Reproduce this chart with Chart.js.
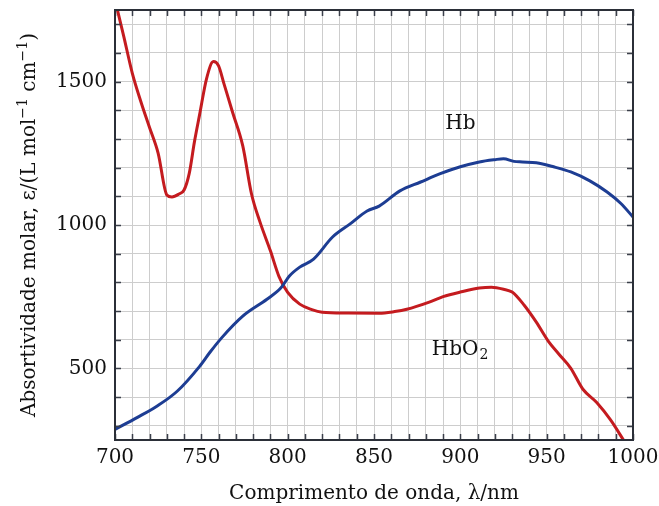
<!DOCTYPE html>
<html>
<head>
<meta charset="utf-8">
<script src="https://cdn.jsdelivr.net/npm/chart.js@4.4.0/dist/chart.umd.min.js"></script>
<style>
  html, body { margin: 0; padding: 0; background: #fff; }
  #wrap { width: 659px; height: 506px; position: relative; }
</style>
</head>
<body>
<div id="wrap"><canvas id="specChart"></canvas></div>
<script>
// Hb (deoxy) curve
const hbWave = [700, 713, 724, 736, 749, 755, 762, 774, 788, 796, 801, 807, 815, 826, 836, 846, 853, 865, 877, 888, 900, 911, 920, 925, 931, 936, 944, 954, 964, 975, 985, 993, 1000];
const hbValues = [287, 329, 367, 420, 507, 556, 608, 682, 741, 780, 822, 853, 881, 958, 1003, 1049, 1066, 1119, 1150, 1178, 1203, 1220, 1228, 1231, 1222, 1220, 1217, 1203, 1185, 1154, 1115, 1075, 1028];

// HbO2 curve
const hbo2Wave = [700, 705, 710, 715, 720, 725, 730, 733, 737, 740, 743, 746, 749, 753, 757, 760, 763, 768, 774, 779, 784, 790, 795, 800, 807, 814, 820, 835, 853, 862, 869, 882, 890, 900, 911, 918, 925, 930, 937, 944, 951, 957, 964, 971, 979, 987, 995];
const hbo2Values = [1785, 1660, 1530, 1430, 1340, 1250, 1105, 1098, 1108, 1122, 1180, 1290, 1385, 1510, 1570, 1555, 1495, 1395, 1276, 1110, 1010, 910, 820, 765, 724, 705, 696, 693, 692, 698, 706, 731, 750, 766, 780, 783, 776, 766, 720, 661, 594, 550, 500, 427, 381, 320, 245];

const xLabels = [700, 750, 800, 850, 900, 950, 1000];
const yLabels = [500, 1000, 1500];
const xGrid = [700, 710, 720, 730, 740, 750, 760, 770, 780, 790, 800, 810, 820, 830, 840, 850, 860, 870, 880, 890, 900, 910, 920, 930, 940, 950, 960, 970, 980, 990, 1000];
const yGrid = [300, 400, 500, 600, 700, 800, 900, 1000, 1100, 1200, 1300, 1400, 1500, 1600, 1700];

const serif = '"DejaVu Serif", serif';

function toPoints(xs, ys) {
    return xs.map((x, i) => ({ x: x, y: ys[i] }));
}

// inward ticks, frame, y title and curve labels
const framePlugin = {
    id: 'frame',
    afterDraw(chart) {
        const ctx = chart.ctx;
        const a = chart.chartArea;
        const xs = chart.scales.x, ys = chart.scales.y;
        ctx.save();
        ctx.strokeStyle = '#3a3f4a';
        ctx.lineWidth = 1.5;
        xGrid.forEach(v => {
            const px = Math.round(xs.getPixelForValue(v)) + 0.5;
            ctx.beginPath();
            ctx.moveTo(px, a.bottom); ctx.lineTo(px, a.bottom - 6);
            ctx.moveTo(px, a.top); ctx.lineTo(px, a.top + 6);
            ctx.stroke();
        });
        yGrid.forEach(v => {
            const py = Math.round(ys.getPixelForValue(v)) + 0.5;
            ctx.beginPath();
            ctx.moveTo(a.left, py); ctx.lineTo(a.left + 6, py);
            ctx.moveTo(a.right, py); ctx.lineTo(a.right - 6, py);
            ctx.stroke();
        });
        ctx.lineWidth = 2;
        ctx.strokeStyle = '#2b2f38';
        ctx.strokeRect(a.left, a.top, a.right - a.left, a.bottom - a.top);

        ctx.fillStyle = '#111';
        ctx.font = '20px ' + serif;
        ctx.textBaseline = 'middle';
        ctx.textAlign = 'center';
        ctx.fillText('Hb', xs.getPixelForValue(900), ys.getPixelForValue(1353));
        ctx.textAlign = 'left';
        const hx = xs.getPixelForValue(883.5), hy = ys.getPixelForValue(566);
        ctx.fillText('HbO', hx, hy);
        const w = ctx.measureText('HbO').width;
        ctx.font = '14px ' + serif;
        ctx.fillText('2', hx + w + 1, hy + 6);

        // y axis title with superscripts
        const parts = [
            ['Absortividade molar, ε/(L mol', 0],
            ['−1', 1],
            [' cm', 0],
            ['−1', 1],
            [')', 0]
        ];
        const big = '20px ' + serif, small = '14px ' + serif;
        let total = 0;
        parts.forEach(p => { ctx.font = p[1] ? small : big; total += ctx.measureText(p[0]).width; });
        ctx.translate(30, (a.top + a.bottom) / 2);
        ctx.rotate(-Math.PI / 2);
        let cx = -total / 2;
        parts.forEach(p => {
            ctx.font = p[1] ? small : big;
            ctx.fillText(p[0], cx, p[1] ? -7 : 0);
            cx += ctx.measureText(p[0]).width;
        });
        ctx.restore();
    }
};

new Chart(document.getElementById('specChart'), {
    type: 'line',
    data: {
        datasets: [{
            label: 'Hb',
            data: toPoints(hbWave, hbValues),
            borderColor: '#1d3d93',
            borderWidth: 3,
            pointRadius: 0,
            cubicInterpolationMode: 'monotone',
            fill: false,
            clip: 0
        }, {
            label: 'HbO2',
            data: toPoints(hbo2Wave, hbo2Values),
            borderColor: '#c41b1f',
            borderWidth: 3,
            pointRadius: 0,
            cubicInterpolationMode: 'monotone',
            fill: false,
            clip: 0
        }]
    },
    options: {
        responsive: true,
        maintainAspectRatio: false,
        animation: false,
        layout: { padding: { top: 10, right: 26, left: 0, bottom: 0 } },
        plugins: {
            legend: { display: false },
            tooltip: { enabled: false }
        },
        scales: {
            x: {
                type: 'linear',
                min: 700,
                max: 1000,
                afterBuildTicks(scale) { scale.ticks = xGrid.map(v => ({ value: v })); },
                afterFit(scale) {
                    scale.height = 66;
                    scale.paddingLeft = 0;
                    scale.paddingRight = 0;
                },
                grid: { color: '#cdcdcd', lineWidth: 1, drawTicks: false },
                border: { display: false },
                ticks: {
                    autoSkip: false,
                    maxRotation: 0,
                    padding: 6,
                    color: '#111',
                    font: { family: serif, size: 20 },
                    callback: v => xLabels.includes(v) ? String(v) : ''
                },
                title: {
                    display: true,
                    text: 'Comprimento de onda, λ/nm',
                    color: '#111',
                    font: { family: serif, size: 20 },
                    padding: { top: 2, bottom: 0 }
                }
            },
            y: {
                min: 250,
                max: 1750,
                afterBuildTicks(scale) { scale.ticks = yGrid.map(v => ({ value: v })); },
                afterFit(scale) {
                    scale.width = 115;
                    scale.paddingTop = 0;
                    scale.paddingBottom = 0;
                },
                grid: { color: '#cdcdcd', lineWidth: 1, drawTicks: false },
                border: { display: false },
                ticks: {
                    autoSkip: false,
                    padding: 8,
                    color: '#111',
                    font: { family: serif, size: 20 },
                    callback: v => yLabels.includes(v) ? String(v) : ''
                }
            }
        }
    },
    plugins: [framePlugin]
});
</script>
</body>
</html>
